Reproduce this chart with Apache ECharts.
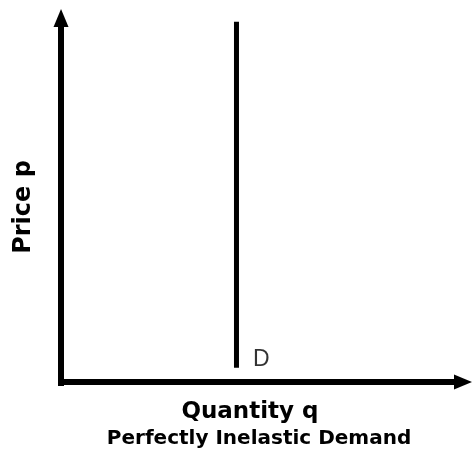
<!DOCTYPE html>
<html>
<head>
<meta charset="utf-8">
<script src="https://cdn.jsdelivr.net/npm/echarts@6/dist/echarts.min.js"></script>
<style>
  html, body { margin: 0; padding: 0; background: #fff; }
  #myChart { width: 472px; height: 459px; }
</style>
</head>
<body>
<div id="myChart"></div>
<script>
// demand curve: quantity stays fixed whatever the price
const demandQ = [43.65, 43.65]
const demandP = [3.93, 98.98]
const curveLabel = 'D'

const myChart = echarts.init(document.getElementById('myChart'))
const font = '"DejaVu Sans", sans-serif'

// axes start a little below zero so the two thick lines overlap at the corner
const axisLine = {
  show: true,
  onZero: true,
  symbol: ['none', 'triangle'],
  symbolSize: [15, 18],
  lineStyle: { color: '#000', width: 6, cap: 'butt' }
}

const option = {
  animation: false,
  backgroundColor: '#fff',
  title: {
    text: 'Perfectly Inelastic Demand',
    left: 254,
    top: 424,
    textAlign: 'center',
    textStyle: { fontFamily: font, fontWeight: 'bold', fontSize: 20, color: '#000' }
  },
  grid: { left: 58, right: 9, top: 18, bottom: 73 },
  xAxis: {
    type: 'value',
    min: -0.75,
    max: 100,
    name: 'Quantity q',
    nameLocation: 'middle',
    nameGap: 15,
    nameTextStyle: {
      fontFamily: font, fontWeight: 'bold', fontSize: 23, color: '#000',
      verticalAlign: 'top', padding: [0, 21, 0, 0]
    },
    axisLine: axisLine,
    axisTick: { show: false },
    axisLabel: { show: false },
    splitLine: { show: false }
  },
  yAxis: {
    type: 'value',
    min: -1.1,
    max: 100,
    name: 'Price p',
    nameLocation: 'middle',
    nameGap: 22,
    nameTextStyle: {
      fontFamily: font, fontWeight: 'bold', fontSize: 24, color: '#000',
      padding: [0, 10, 0, 0]
    },
    axisLine: axisLine,
    axisTick: { show: false },
    axisLabel: { show: false },
    splitLine: { show: false }
  },
  series: [
    {
      type: 'line',
      data: demandQ.map((q, i) => [q, demandP[i]]),
      symbol: 'none',
      lineStyle: { color: '#000', width: 5 }
    },
    {
      type: 'scatter',
      data: [[demandQ[0], demandP[0]]],
      symbolSize: 1,
      itemStyle: { color: 'rgba(0,0,0,0)' },
      label: {
        show: true,
        position: 'right',
        distance: 16,
        offset: [0, -8],
        fontFamily: '"Liberation Sans", sans-serif',
        fontSize: 23,
        color: '#000',
        formatter: curveLabel
      }
    }
  ]
}

myChart.setOption(option)
</script>
</body>
</html>
